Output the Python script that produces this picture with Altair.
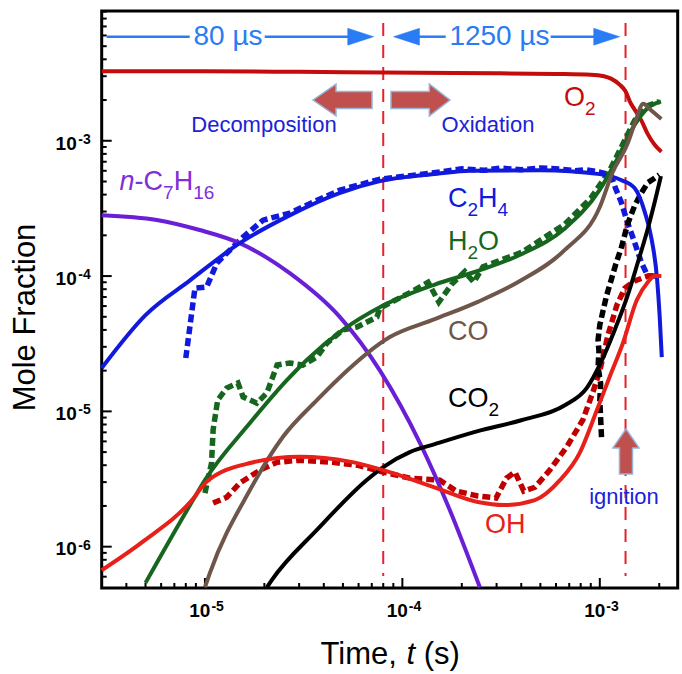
import altair as alt
import pandas as pd

# ---------------- data (time in s, mole fraction) ----------------
o2_t = [3e-6, 1e-5, 3e-5, 8e-5, 3e-4, 6e-4, 9e-4, 1.05e-3, 1.14e-3, 1.26e-3, 1.355e-3, 1.42e-3, 1.5e-3, 1.62e-3, 1.75e-3, 1.9e-3, 2.05e-3]
o2_v = [3.27e-3, 3.26e-3, 3.23e-3, 3.2e-3, 3.15e-3, 3.12e-3, 3.08e-3, 3.0e-3, 2.88e-3, 2.6e-3, 2.3e-3, 1.95e-3, 1.7e-3, 1.42e-3, 1.12e-3, 9.3e-4, 8.3e-4]

c2h4_t = [3e-6, 5e-6, 8.4e-6, 1.5e-5, 2.7e-5, 4.8e-5, 7.7e-5, 1.5e-4, 2.2e-4, 5e-4, 1e-3, 1.28e-3, 1.5e-3, 1.69e-3, 1.83e-3, 1.95e-3, 2.01e-3, 2.06e-3]
c2h4_v = [2.09e-5, 5.15e-5, 9.3e-5, 1.75e-4, 2.82e-4, 4.1e-4, 5.03e-4, 5.7e-4, 6.0e-4, 6.06e-4, 5.67e-4, 5.13e-4, 4.47e-4, 2.97e-4, 1.87e-4, 9.5e-5, 5.06e-5, 2.52e-5]
c2h4_exp_t = [8.0e-6, 8.9e-6, 1.02e-5, 1.15e-5, 1.34e-5, 1.56e-5, 1.97e-5, 2.69e-5, 3.5e-5, 4.83e-5, 7.7e-5, 1.55e-4, 2.0e-4, 2.6e-4, 3.13e-4, 4e-4, 5e-4, 6.26e-4, 7.5e-4, 8.5e-4, 1e-3, 1.14e-3, 1.2e-3, 1.28e-3, 1.38e-3, 1.5e-3, 1.62e-3, 1.75e-3, 1.93e-3]
c2h4_exp_v = [2.48e-5, 8.15e-5, 8.3e-5, 1.25e-4, 1.56e-4, 1.94e-4, 2.59e-4, 2.92e-4, 3.5e-4, 4.32e-4, 5.2e-4, 5.87e-4, 6.2e-4, 6.05e-4, 6.28e-4, 6.1e-4, 6.3e-4, 6.18e-4, 6.0e-4, 6.1e-4, 5.87e-4, 5.57e-4, 4.47e-4, 3.56e-4, 2.5e-4, 1.78e-4, 1.27e-4, 1.0e-4, 1.0e-4]

nc7_t = [3e-6, 5.7e-6, 9.4e-6, 1.5e-5, 2.69e-5, 4.83e-5, 7.7e-5, 1.23e-4, 1.74e-4, 2.47e-4]
nc7_v = [2.82e-4, 2.6e-4, 2.19e-4, 1.75e-4, 1.05e-4, 4.97e-5, 2.0e-5, 5.8e-6, 1.86e-6, 5.0e-7]

h2o_t = [5.0e-6, 8.7e-6, 1e-5, 1.69e-5, 2.6e-5, 3.28e-5, 5.0e-5, 7.9e-5, 1.46e-4, 2.41e-4, 4.0e-4, 6.65e-4, 1e-3, 1.22e-3, 1.5e-3, 1.75e-3, 2.04e-3]
h2o_v = [5.4e-7, 2.21e-6, 3.1e-6, 8.2e-6, 1.7e-5, 2.4e-5, 4.0e-5, 6.0e-5, 8.66e-5, 1.09e-4, 1.45e-4, 2.25e-4, 4.35e-4, 7.26e-4, 1.31e-3, 1.75e-3, 1.95e-3]
h2o_exp_t = [1e-5, 1.08e-5, 1.1e-5, 1.16e-5, 1.29e-5, 1.47e-5, 1.56e-5, 1.83e-5, 2.06e-5, 2.32e-5, 2.69e-5, 3.13e-5, 3.69e-5, 4.15e-5, 5.0e-5, 5.89e-5, 7.43e-5, 7.7e-5, 1.08e-4, 1.35e-4, 1.53e-4, 1.78e-4, 2.07e-4, 2.3e-4, 2.56e-4, 4.03e-4, 6.65e-4, 9.0e-4, 1.11e-3, 1.29e-3, 1.5e-3, 1.75e-3, 2.0e-3]
h2o_exp_v = [2.49e-6, 4.15e-6, 7.3e-6, 1.21e-5, 1.49e-5, 1.62e-5, 1.28e-5, 1.15e-5, 1.37e-5, 2.2e-5, 2.28e-5, 2.2e-5, 2.52e-5, 3.2e-5, 4.0e-5, 4.2e-5, 4.98e-5, 5.8e-5, 7.48e-5, 9.0e-5, 6.43e-5, 8.73e-5, 1.08e-4, 9.0e-5, 1.17e-4, 1.5e-4, 2.42e-4, 3.77e-4, 5.87e-4, 9.06e-4, 1.41e-3, 1.82e-3, 1.95e-3]

co_t = [1e-5, 1.06e-5, 1.69e-5, 2.48e-5, 3.69e-5, 4.66e-5, 8.64e-5, 1.46e-4, 2.41e-4, 4.0e-4, 6.65e-4, 1e-3, 1.16e-3, 1.38e-3, 1.5e-3, 1.66e-3, 1.8e-3, 2.05e-3]
co_v = [5e-7, 6.4e-7, 2.62e-6, 6.46e-6, 1.21e-5, 1.7e-5, 3.54e-5, 4.8e-5, 6.45e-5, 9.3e-5, 1.56e-4, 3.24e-4, 5.83e-4, 9.46e-4, 1.33e-3, 1.88e-3, 1.7e-3, 1.45e-3]

co2_t = [2.06e-5, 2.18e-5, 3.69e-5, 6.6e-5, 7.9e-5, 1.09e-4, 1.46e-4, 2.41e-4, 4.0e-4, 6.65e-4, 8.6e-4, 1.01e-3, 1.19e-3, 1.38e-3, 1.56e-3, 1.75e-3, 1.9e-3, 2.04e-3]
co2_v = [5.0e-7, 5.66e-7, 1.33e-6, 3.11e-6, 3.83e-6, 5.0e-6, 5.73e-6, 7.15e-6, 8.6e-6, 1.11e-5, 1.49e-5, 2.28e-5, 4.0e-5, 7.1e-5, 1.27e-4, 2.24e-4, 3.56e-4, 5.48e-4]
co2_exp_t = [1.02e-3, 1.0e-3, 1.01e-3, 9.8e-4, 9.9e-4, 9.8e-4, 1.0e-3, 1.08e-3, 1.2e-3, 1.29e-3, 1.38e-3, 1.5e-3, 1.62e-3, 1.75e-3, 1.9e-3, 2.0e-3]
co2_exp_v = [6.45e-6, 1.21e-5, 1.6e-5, 2.13e-5, 2.8e-5, 3.37e-5, 4.36e-5, 7.1e-5, 1.2e-4, 1.65e-4, 2.4e-4, 3.3e-4, 4.1e-4, 4.9e-4, 5.3e-4, 5.6e-4]

oh_t = [3e-6, 4.85e-6, 8.6e-6, 1.02e-5, 1.69e-5, 3.03e-5, 5.42e-5, 8.0e-5, 1.43e-4, 2.41e-4, 3.27e-4, 4.69e-4, 6.28e-4, 7.9e-4, 9.66e-4, 1.12e-3, 1.31e-3, 1.54e-3, 1.75e-3, 1.9e-3, 2.05e-3]
oh_v = [6.7e-7, 1.09e-6, 2.21e-6, 3.02e-6, 4.15e-6, 4.62e-6, 4.25e-6, 3.68e-6, 2.77e-6, 2.14e-6, 2.03e-6, 2.21e-6, 3.1e-6, 4.92e-6, 1.02e-5, 1.79e-5, 3.2e-5, 6.65e-5, 9.0e-5, 1.0e-4, 1.0e-4]
oh_exp_t = [1.1e-5, 1.29e-5, 1.5e-5, 1.9e-5, 2.32e-5, 3.0e-5, 4.45e-5, 5.9e-5, 8e-5, 1.09e-4, 1.55e-4, 1.87e-4, 2.41e-4, 2.98e-4, 3.37e-4, 3.72e-4, 4.12e-4, 4.69e-4, 5.58e-4, 6.8e-4, 8.2e-4, 9.2e-4, 1.0e-3, 1.1e-3, 1.22e-3, 1.34e-3, 1.5e-3, 1.75e-3, 1.9e-3]
oh_exp_v = [2.1e-6, 2.32e-6, 2.95e-6, 3.68e-6, 4.2e-6, 4.36e-6, 4.2e-6, 4.0e-6, 3.56e-6, 3.21e-6, 3.1e-6, 2.58e-6, 2.37e-6, 2.29e-6, 3.21e-6, 3.56e-6, 2.58e-6, 2.75e-6, 3.68e-6, 5.47e-6, 8.63e-6, 1.37e-5, 2.0e-5, 3.66e-5, 6.1e-5, 8.15e-5, 9.2e-5, 1.0e-4, 1.0e-4]

event_times = [8e-5, 1.35e-3]          # end of decomposition / ignition
x_major = [1e-5, 1e-4, 1e-3]
x_major_exp = ["-5", "-4", "-3"]
y_major = [1e-6, 1e-5, 1e-4, 1e-3]
y_major_exp = ["-6", "-5", "-4", "-3"]

# ---------------- layout ----------------
W, H = 576, 577
FONT = "Liberation Sans"
XS = alt.Scale(type="log", domain=[3e-6, 2.48e-3], nice=False)
YS = alt.Scale(type="log", domain=[4.95e-7, 9.1e-3], nice=False)
ONE = alt.Data(values=[{"a": 1}])

x_minor = [k * 10.0 ** e for e in range(-6, -2) for k in range(2, 10)
           if 3.05e-6 < k * 10.0 ** e < 2.45e-3]
y_minor = [k * 10.0 ** e for e in range(-7, -2) for k in range(2, 10)
           if 5.2e-7 < k * 10.0 ** e < 9.05e-3]

TICK_COLOR = "black"
layers = []

# inward axis ticks
layers += [
    alt.Chart(pd.DataFrame({"v": y_major})).mark_rule(color=TICK_COLOR, strokeWidth=2).encode(
        y=alt.Y("v:Q", scale=YS, axis=None), x=alt.value(0), x2=alt.value(10)),
    alt.Chart(pd.DataFrame({"v": y_minor})).mark_rule(color=TICK_COLOR, strokeWidth=2).encode(
        y=alt.Y("v:Q", scale=YS, axis=None), x=alt.value(0), x2=alt.value(5)),
    alt.Chart(pd.DataFrame({"t": x_major})).mark_rule(color=TICK_COLOR, strokeWidth=2).encode(
        x=alt.X("t:Q", scale=XS, axis=None), y=alt.value(H), y2=alt.value(H - 10)),
    alt.Chart(pd.DataFrame({"t": x_minor})).mark_rule(color=TICK_COLOR, strokeWidth=2).encode(
        x=alt.X("t:Q", scale=XS, axis=None), y=alt.value(H), y2=alt.value(H - 5)),
]


def series(t, v, color, width, dash=None, interp="monotone"):
    df = pd.DataFrame({"t": t, "v": v, "i": list(range(len(t)))})
    kw = dict(color=color, strokeWidth=width, interpolate=interp)
    if dash:
        kw["strokeDash"] = dash
    return alt.Chart(df).mark_line(**kw).encode(
        x=alt.X("t:Q", scale=XS, axis=None),
        y=alt.Y("v:Q", scale=YS, axis=None),
        order="i:Q",
    )


def txt(text, x, y, size, color, weight="normal", style="normal",
        align="left", angle=0, baseline="alphabetic"):
    return alt.Chart(ONE).mark_text(
        text=text, align=align, baseline=baseline, fontSize=size, font=FONT,
        fontWeight=weight, fontStyle=style, color=color, angle=angle,
    ).encode(x=alt.value(x), y=alt.value(y))


def hrule(x1, x2, y, color, width):
    return alt.Chart(ONE).mark_rule(color=color, strokeWidth=width).encode(
        x=alt.value(x1), x2=alt.value(x2), y=alt.value(y))


def shape(path, x, y, size, fill, stroke, sw=1.5):
    return alt.Chart(ONE).mark_point(
        shape=path, size=size, filled=True, fill=fill, stroke=stroke,
        strokeWidth=sw, opacity=1,
    ).encode(x=alt.value(x), y=alt.value(y))


# event lines
layers.append(
    alt.Chart(pd.DataFrame({"t": event_times})).mark_rule(
        color="#e8202a", strokeWidth=2, strokeDash=[13, 9]
    ).encode(x=alt.X("t:Q", scale=XS, axis=None), y=alt.value(12), y2=alt.value(565))
)

DASH = [8, 4]
# measurements (dashed)
layers += [
    series(c2h4_exp_t, c2h4_exp_v, "#1019dc", 5.5, DASH, "linear"),
    series(h2o_exp_t, h2o_exp_v, "#16661f", 5.5, DASH, "linear"),
    series(oh_exp_t, oh_exp_v, "#c00000", 5.5, DASH, "linear"),
    series(co2_exp_t, co2_exp_v, "#000000", 5.5, DASH, "linear"),
]
# model (solid)
layers += [
    series(o2_t, o2_v, "#c40c0c", 4),
    series(nc7_t, nc7_v, "#6a1ed6", 4),
    series(c2h4_t, c2h4_v, "#1019dc", 4),
    series(h2o_t, h2o_v, "#16661f", 4),
    series(co_t, co_v, "#6f564b", 4),
    series(co2_t, co2_v, "#000000", 4),
    series(oh_t, oh_v, "#e8201a", 4),
]

# tick labels 10^n
xl = pd.DataFrame({"t": x_major, "base": ["10"] * 3, "e": x_major_exp})
yl = pd.DataFrame({"v": y_major, "base": ["10"] * 4, "e": y_major_exp})
layers += [
    alt.Chart(xl).mark_text(align="right", baseline="alphabetic", dx=5.5, fontSize=19,
                            fontWeight="bold", font=FONT, color="black").encode(
        x=alt.X("t:Q", scale=XS, axis=None), y=alt.value(H + 29), text="base:N"),
    alt.Chart(xl).mark_text(align="left", baseline="alphabetic", dx=6.5, fontSize=14,
                            fontWeight="bold", font=FONT, color="black").encode(
        x=alt.X("t:Q", scale=XS, axis=None), y=alt.value(H + 23), text="e:N"),
    alt.Chart(yl).mark_text(align="right", baseline="alphabetic", dy=8.8, fontSize=19,
                            fontWeight="bold", font=FONT, color="black").encode(
        y=alt.Y("v:Q", scale=YS, axis=None), x=alt.value(-25), text="base:N"),
    alt.Chart(yl).mark_text(align="left", baseline="alphabetic", dy=3, fontSize=14,
                            fontWeight="bold", font=FONT, color="black").encode(
        y=alt.Y("v:Q", scale=YS, axis=None), x=alt.value(-23.4), text="e:N"),
]

# axis titles
layers.append(txt("Mole Fraction", -66.7, 306.5, 31, "black", align="center", angle=270))
layers += [
    txt("Time,", 218.8, 653, 31, "black"),
    txt("t", 304.9, 653, 31, "black", style="italic"),
    txt("(s)", 322.1, 653, 31, "black"),
]

# species labels: (segments, left, baseline, color)
MAIN, SUB = 27, 19
ADV = {"O": 0.778, "C": 0.722, "H": 0.722, "n": 0.556, "-": 0.333}


def label(segs, x0, y0, color):
    out = []
    x = x0
    for s, kind in segs:
        size = SUB if kind == "sub" else MAIN
        y = y0 + (9 if kind == "sub" else 0)
        out.append(txt(s, x, y, size, color, style="italic" if kind == "it" else "normal"))
        x += sum(ADV.get(ch, 0.556) for ch in s) * size
    return out


layers += label([("O", "m"), ("2", "sub")], 462.3, 95, "#c40c0c")
layers += label([("C", "m"), ("2", "sub"), ("H", "m"), ("4", "sub")], 346.3, 196, "#1019dc")
layers += label([("H", "m"), ("2", "sub"), ("O", "m")], 346.3, 239, "#16661f")
layers += label([("CO", "m")], 346.3, 329.5, "#6f564b")
layers += label([("CO", "m"), ("2", "sub")], 346.3, 396, "#000000")
layers += label([("OH", "m")], 383.3, 522, "#e8201a")
layers += label([("n", "it"), ("-C", "m"), ("7", "sub"), ("H", "m"), ("16", "sub")], 17.9, 178.7, "#8030d6")

# time-span arrows
BL = "#2a7cf4"
layers += [
    hrule(5, 88, 25.7, BL, 2.5), hrule(163, 248, 25.7, BL, 2.5),
    hrule(316, 344, 25.7, BL, 2.5), hrule(449, 494, 25.7, BL, 2.5),
    shape("M -1 -0.65 L 1 0 L -1 0.65 Z", 259, 25.7, 676, BL, BL, 0.5),
    shape("M 1 -0.65 L -1 0 L 1 0.65 Z", 304.8, 25.7, 676, BL, BL, 0.5),
    shape("M -1 -0.65 L 1 0 L -1 0.65 Z", 505, 25.7, 676, BL, BL, 0.5),
    txt("80 \u00b5s", 126.3, 34, 28, BL, align="center"),
    txt("1250 \u00b5s", 397.8, 34, 28, BL, align="center"),
]

# block arrows and phase labels
AF, AS = "#c0504d", "#95b3d7"
layers += [
    shape("M -1 0 L -0.22 -0.54 L -0.22 -0.29 L 1 -0.29 L 1 0.29 L -0.22 0.29 L -0.22 0.54 Z",
          240.8, 89, 3481, AF, AS),
    shape("M 1 0 L 0.3 -0.54 L 0.3 -0.29 L -1 -0.29 L -1 0.29 L 0.3 0.29 L 0.3 0.54 Z",
          318.8, 89, 3481, AF, AS),
    shape("M 0 -1 L 0.58 -0.16 L 0.29 -0.16 L 0.29 1 L -0.29 1 L -0.29 -0.16 L -0.58 -0.16 Z",
          524.3, 440.5, 2025, AF, AS),
    txt("Decomposition", 162.3, 120.5, 22, "#1a22d8", align="center"),
    txt("Oxidation", 386.3, 120.5, 22, "#1a22d8", align="center"),
    txt("ignition", 522.3, 493, 22, "#1a22d8", align="center"),
]

chart = alt.layer(*layers).properties(
    width=W, height=H,
    autosize=alt.AutoSizeParams(type="none"),
    padding={"left": 101.7, "top": 11, "right": 4, "bottom": 86},
    background="white",
).configure_view(stroke="black", strokeWidth=3)

chart.save("out.html", embed_options={"renderer": "svg", "actions": False})
